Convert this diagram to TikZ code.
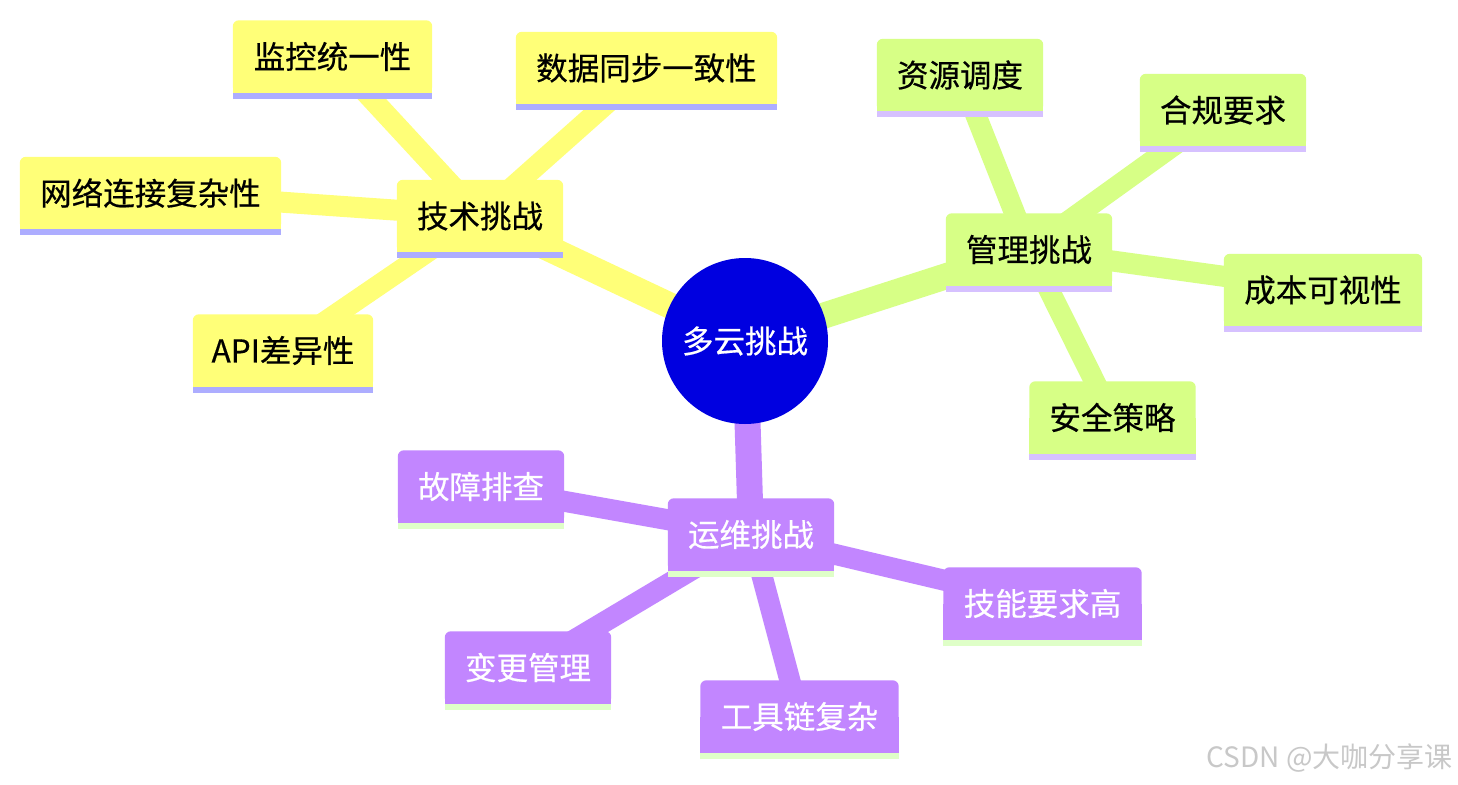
\documentclass[tikz,border=0pt]{standalone}
\usepackage{fontspec}
\newfontfamily\cjk[FakeBold=0.5]{Noto Sans CJK SC}
\newfontfamily\cjkwm{Noto Sans CJK SC}
\definecolor{yel}{HTML}{FFFF78}
\definecolor{yelline}{HTML}{ADADFF}
\definecolor{grn}{HTML}{D7FF86}
\definecolor{grnline}{HTML}{D6C1FF}
\definecolor{pur}{HTML}{C286FF}
\definecolor{purline}{HTML}{DFFFC8}
\definecolor{rootblue}{HTML}{0000E0}
\definecolor{wmgray}{HTML}{C8C8C8}
\pgfdeclarelayer{bg}
\pgfdeclarelayer{edges}
\pgfdeclarelayer{boxes}
\pgfsetlayers{bg,edges,boxes,main}
\tikzset{
  mmtext/.style={inner sep=0pt, minimum height=72pt, font=\cjk\fontsize{31.5}{31.5}\selectfont, align=center},
  rootedge/.style={line width=26pt},
  leafedge/.style={line width=21pt},
  rootnode/.style={circle, fill=rootblue, minimum size=166pt, inner sep=0pt, text=white, font=\cjk\fontsize{31.5}{31.5}\selectfont},
  watermark/.style={inner sep=0pt, text=wmgray, font=\cjkwm\fontsize{28}{28}\selectfont},
}
\newcommand\mmbox[8]{%
  \node[mmtext, minimum width=#4pt, text=#7] (#1) at (#2,#3) {#8};
  \begin{pgfonlayer}{boxes}
    \fill[#5, rounded corners=6pt] (#1.south west) rectangle (#1.north east);
    \fill[#5] (#1.west) rectangle (#1.south east);
    \fill[#6] (#1.south west) rectangle ([yshift=-6pt]#1.south east);
  \end{pgfonlayer}}
\begin{document}
\begin{tikzpicture}[x=1pt, y=-1pt]
\begin{pgfonlayer}{bg}
  \fill[white] (0,0) rectangle (1458,784);
\end{pgfonlayer}
\useasboundingbox (0,0) rectangle (1458,784);

\node[rootnode] (root) at (745,341) {多云挑战};

% technical
\mmbox{tech}{480}{216}{166}{yel}{yelline}{black}{技术挑战}
\mmbox{mon}{332.5}{56.5}{199}{yel}{yelline}{black}{监控统一性}
\mmbox{sync}{646.5}{68}{261}{yel}{yelline}{black}{数据同步一致性}
\mmbox{net}{150.5}{193}{261}{yel}{yelline}{black}{网络连接复杂性}
\mmbox{api}{283}{350.5}{180}{yel}{yelline}{black}{API差异性}

% management
\mmbox{mgmt}{1029}{249.5}{166}{grn}{grnline}{black}{管理挑战}
\mmbox{res}{960}{75}{166}{grn}{grnline}{black}{资源调度}
\mmbox{comp}{1223}{110}{166}{grn}{grnline}{black}{合规要求}
\mmbox{cost}{1323}{290}{198}{grn}{grnline}{black}{成本可视性}
\mmbox{sec}{1112.5}{417.5}{166}{grn}{grnline}{black}{安全策略}

% operations
\mmbox{ops}{751}{534.5}{166}{pur}{purline}{white}{运维挑战}
\mmbox{fault}{481}{486.5}{166}{pur}{purline}{white}{故障排查}
\mmbox{skill}{1042.5}{603.5}{198}{pur}{purline}{white}{技能要求高}
\mmbox{change}{528}{667.5}{166}{pur}{purline}{white}{变更管理}
\mmbox{tool}{799.5}{716.5}{198}{pur}{purline}{white}{工具链复杂}

\begin{pgfonlayer}{edges}
  \draw[rootedge, yel] (root.center) -- (tech.center);
  \draw[rootedge, grn] (root.center) -- (mgmt.center);
  \draw[rootedge, pur] (root.center) -- (ops.center);
  \draw[leafedge, yel] (tech.center) -- (mon.center);
  \draw[leafedge, yel] (tech.center) -- (sync.center);
  \draw[leafedge, yel] (tech.center) -- (net.center);
  \draw[leafedge, yel] (tech.center) -- (api.center);
  \draw[leafedge, grn] (mgmt.center) -- (res.center);
  \draw[leafedge, grn] (mgmt.center) -- (comp.center);
  \draw[leafedge, grn] (mgmt.center) -- (cost.center);
  \draw[leafedge, grn] (mgmt.center) -- (sec.center);
  \draw[leafedge, pur] (ops.center) -- (fault.center);
  \draw[leafedge, pur] (ops.center) -- (skill.center);
  \draw[leafedge, pur] (ops.center) -- (change.center);
  \draw[leafedge, pur] (ops.center) -- (tool.center);
\end{pgfonlayer}

\node[watermark, anchor=east] (wm) at (1453,758) {CSDN @大咖分享课};
\end{tikzpicture}
\end{document}
